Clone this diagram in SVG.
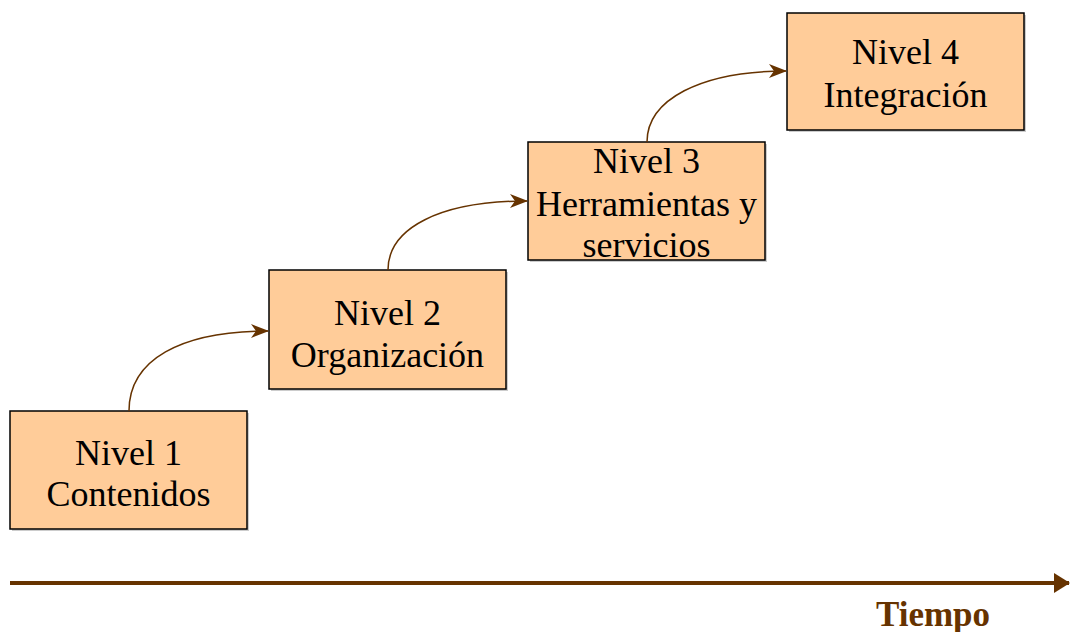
<svg xmlns="http://www.w3.org/2000/svg" width="1070" height="632" viewBox="0 0 1070 632">
<style>
.box{fill:#FFCC99;stroke:#000;stroke-width:1.5}
.shadow{fill:#999;opacity:0.5}
.lbl{font-family:"Liberation Serif","Times New Roman",serif;font-size:36px;fill:#000;text-anchor:middle}
.conn{fill:none;stroke:#663300;stroke-width:1.5}
</style>
<defs>
<marker id="ah" viewBox="0 0 18 14" refX="17" refY="7" markerWidth="18" markerHeight="14" markerUnits="userSpaceOnUse" orient="auto">
<path d="M0,0 L18,7 L0,14 L5,7 Z" fill="#663300"/>
</marker>
<marker id="ah2" viewBox="0 0 16 20" refX="15" refY="10" markerWidth="16" markerHeight="20" markerUnits="userSpaceOnUse" orient="auto">
<path d="M0,0 L16,10 L0,20 Z" fill="#663300"/>
</marker>
</defs>
<rect width="1070" height="632" fill="#fff"/>
<g id="node1">
<rect class="shadow" x="12" y="413" width="237" height="118"/>
<rect class="box" x="10" y="411" width="237" height="118"/>
<text class="lbl" x="128.5" y="465">Nivel 1</text>
<text class="lbl" x="128.5" y="506">Contenidos</text>
</g>
<g id="node2">
<rect class="shadow" x="271" y="272" width="237" height="119"/>
<rect class="box" x="269" y="270" width="237" height="119"/>
<text class="lbl" x="387.5" y="325">Nivel 2</text>
<text class="lbl" x="387.5" y="367">Organización</text>
</g>
<g id="node3">
<rect class="shadow" x="530" y="144" width="237" height="118"/>
<rect class="box" x="528" y="142" width="237" height="118"/>
<text class="lbl" x="646.5" y="173">Nivel 3</text>
<text class="lbl" x="646.5" y="216">Herramientas y</text>
<text class="lbl" x="646.5" y="257">servicios</text>
</g>
<g id="node4">
<rect class="shadow" x="789" y="15" width="237" height="117"/>
<rect class="box" x="787" y="13" width="237" height="117"/>
<text class="lbl" x="905.5" y="64">Nivel 4</text>
<text class="lbl" x="905.5" y="107">Integración</text>
</g>
<g id="connectors">
<path class="conn" d="M129,411 C129,360 180,331 268,331" marker-end="url(#ah)"/>
<path class="conn" d="M388,270 C388,228 440,201 527,201" marker-end="url(#ah)"/>
<path class="conn" d="M647,142 C647,100 700,71 786,71" marker-end="url(#ah)"/>
<path d="M10,583 L1069,583" fill="none" stroke="#663300" stroke-width="4" marker-end="url(#ah2)"/>
</g>
<text x="933" y="626" font-family="'Liberation Serif','Times New Roman',serif" font-size="35" font-weight="bold" fill="#663300" text-anchor="middle">Tiempo</text>
</svg>
